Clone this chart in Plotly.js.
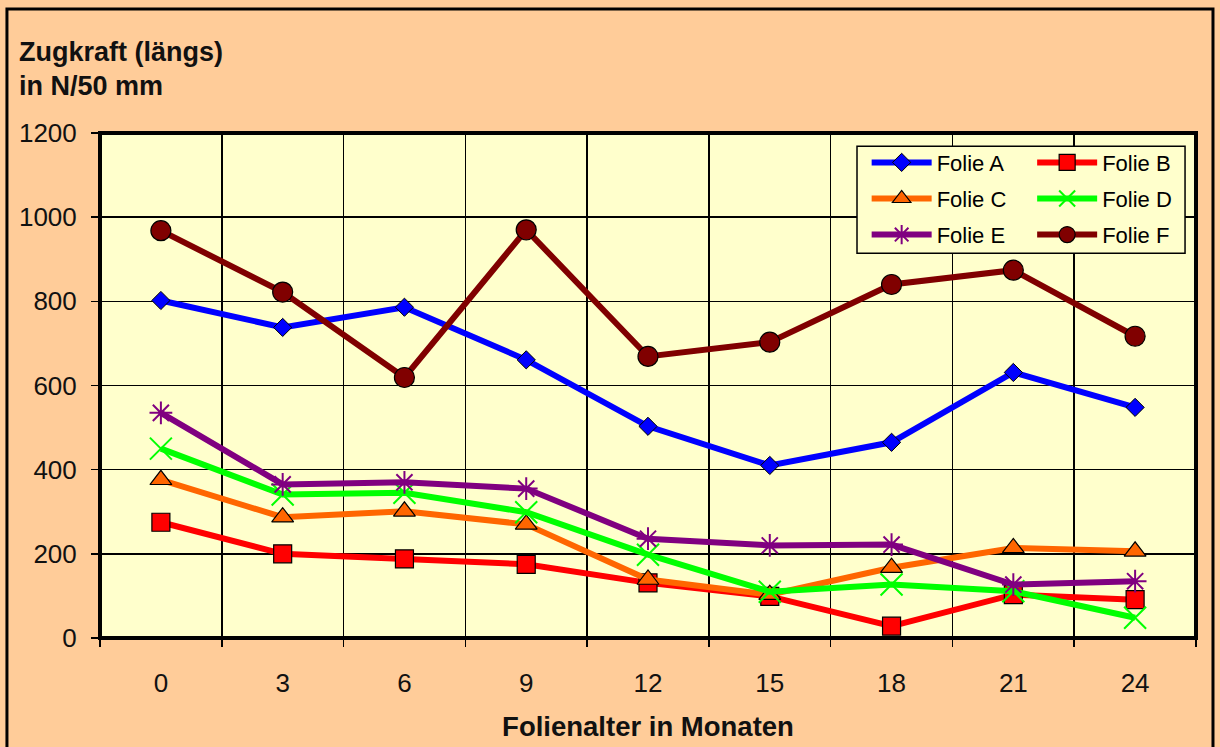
<!DOCTYPE html>
<html><head><meta charset="utf-8">
<script src="https://cdn.plot.ly/plotly-3.0.1.min.js"></script>
<style>body{margin:0;padding:0;background:#FFCC99}#chart{width:1220px;height:747px}</style>
</head><body><div id="chart"></div>
<script>
const months = [0, 3, 6, 9, 12, 15, 18, 21, 24];
const folieA = [802, 738, 786, 661, 503, 410, 465, 631, 548];
const folieB = [275, 200, 188, 175, 131, 99, 28, 103, 91];
const folieC = [376, 287, 301, 270, 139, 103, 167, 214, 206];
const folieD = [450, 341, 345, 299, 198, 110, 127, 111, 48];
const folieE = [535, 365, 370, 355, 236, 220, 222, 127, 135];
const folieF = [968, 822, 619, 970, 669, 703, 840, 874, 717];
const yTicks = [0, 200, 400, 600, 800, 1000, 1200];
const gridBounds = [-1.5, 1.5, 4.5, 7.5, 10.5, 13.5, 16.5, 19.5, 22.5, 25.5];

const FONT = 'Arial, "Liberation Sans", sans-serif';
function tr(name, y, color, symbol, size, mcolor, mline, leg) {
  return {
    type: 'scatter', mode: 'lines+markers', name: name, x: months, y: y,
    legend: leg, legendgroup: name,
    line: {color: color, width: 6},
    marker: {symbol: symbol, size: size, color: mcolor, line: mline}
  };
}
const data = [
  tr('Folie A', folieA, '#0000FF', 'diamond', 14, '#0000FF', {color: '#000', width: 1}, 'legend'),
  tr('Folie B', folieB, '#FF0000', 'square', 18, '#FF0000', {color: '#000', width: 1.2}, 'legend2'),
  tr('Folie C', folieC, '#FF6600', 'triangle-up', 19, '#FF6600', {color: '#000', width: 1.2}, 'legend'),
  tr('Folie D', folieD, '#00FF00', 'x-thin-open', 22, '#00FF00', {color: '#00FF00', width: 2}, 'legend2'),
  tr('Folie E', folieE, '#800080', 'asterisk-open', 19, '#800080', {color: '#800080', width: 2}, 'legend'),
  tr('Folie F', folieF, '#800000', 'circle', 20, '#800000', {color: '#000', width: 1.2}, 'legend2')
];
const legCommon = {
  xanchor: 'left', yanchor: 'top', orientation: 'v',
  itemwidth: 60, tracegroupgap: 4.5,
  bgcolor: 'rgba(0,0,0,0)', borderwidth: 0,
  font: {family: FONT, size: 22, color: '#000'}
};
const layout = {
  width: 1220, height: 747,
  paper_bgcolor: '#FFCC99', plot_bgcolor: '#FFFFCC',
  margin: {l: 100, r: 24, t: 133, b: 109},
  font: {family: FONT, color: '#000', size: 24},
  showlegend: true,
  legend: Object.assign({x: 0.6995, y: 0.983}, legCommon),
  legend2: Object.assign({x: 0.8505, y: 0.983}, legCommon),
  xaxis: {
    type: 'linear', range: [-1.5, 25.5],
    tickvals: months, ticktext: months.map(String),
    ticks: '', showgrid: false, zeroline: false,
    ticklabelstandoff: 27,
    tickfont: {family: FONT, size: 26, color: '#111'},
    minor: {tickvals: gridBounds, showgrid: true, gridcolor: '#000', gridwidth: 1.5,
            ticks: 'outside', ticklen: 8, tickcolor: '#000', tickwidth: 1.5},
    title: {text: '<b>Folienalter in Monaten</b>', font: {family: FONT, size: 27.5, color: '#111'}, standoff: 19},
    fixedrange: true
  },
  yaxis: {
    range: [0, 1200], tickvals: yTicks,
    showgrid: true, gridcolor: '#000', gridwidth: 1.5, zeroline: false,
    ticks: 'outside', ticklen: 8, tickcolor: '#000', tickwidth: 1.5,
    ticklabelstandoff: 9,
    tickfont: {family: FONT, size: 26, color: '#111'}, fixedrange: true
  },
  shapes: [
    {type: 'rect', xref: 'paper', yref: 'paper', x0: 0.6907, x1: 0.99, y0: 0.762, y1: 0.974,
     line: {color: '#000', width: 1.5}, fillcolor: '#FFFFCC', layer: 'above'},
    {type: 'rect', xref: 'paper', yref: 'paper', x0: 0, x1: 1, y0: 0, y1: 1,
     line: {color: '#000', width: 4}, layer: 'above'},
    {type: 'rect', xref: 'paper', yref: 'paper', x0: -0.0849, x1: 1.0155, y0: -0.4, y1: 1.2455,
     line: {color: '#000', width: 3}, layer: 'below'}
  ],
  annotations: [
    {xref: 'paper', yref: 'paper', x: -0.0757, y: 1.160, xanchor: 'left', yanchor: 'middle',
     text: '<b>Zugkraft (längs)</b>', showarrow: false, font: {family: FONT, size: 27, color: '#111'}},
    {xref: 'paper', yref: 'paper', x: -0.0757, y: 1.093, xanchor: 'left', yanchor: 'middle',
     text: '<b>in N/50 mm</b>', showarrow: false, font: {family: FONT, size: 27, color: '#111'}}
  ]
};
Plotly.newPlot('chart', data, layout, {displayModeBar: false, staticPlot: true});
</script></body></html>
